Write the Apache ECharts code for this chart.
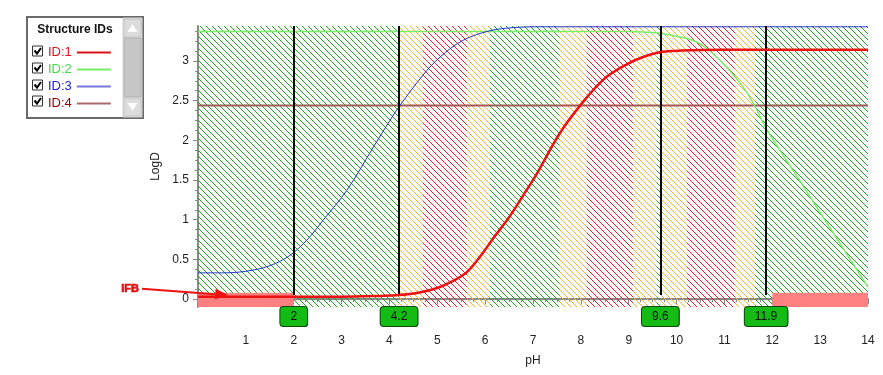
<!DOCTYPE html>
<html><head><meta charset="utf-8">
<script src="https://cdn.jsdelivr.net/npm/echarts@6/dist/echarts.min.js"></script>
<style>html,body{margin:0;padding:0;background:#fff}#c{width:883px;height:375px}</style>
</head><body><div id="c"></div>
<script>
// ---------- data ----------
const seriesNames = ['ID:1', 'ID:2', 'ID:3', 'ID:4'];
const id1 = [[0,0.03],[1,0.03],[2,0.03],[3,0.03],[3.8,0.04],[4.2,0.05],[4.6,0.08],[5.0,0.14],[5.3,0.22],[5.6,0.33],[5.9,0.54],[6.2,0.79],[6.5,1.03],[6.8,1.31],[7.1,1.6],[7.55,2.08],[8.0,2.45],[8.5,2.78],[9.0,2.97],[9.3,3.05],[9.65,3.11],[10.1,3.13],[11,3.14],[12,3.14],[14,3.14]];
const id2 = [[0,3.37],[9.0,3.37],[9.4,3.36],[9.65,3.35],[10.0,3.31],[10.34,3.26],[10.63,3.16],[11.05,2.92],[11.39,2.67],[11.6,2.47],[11.89,2.13],[12.5,1.56],[13,1.09],[13.5,0.62],[14,0.15]];
const id3 = [[0,0.33],[0.5,0.33],[1,0.35],[1.5,0.42],[1.92,0.55],[2.3,0.76],[2.61,0.99],[3.11,1.37],[3.66,1.91],[4.01,2.25],[4.22,2.44],[4.7,2.82],[5.06,3.05],[5.54,3.26],[6.1,3.38],[6.6,3.42],[7.1,3.43],[14,3.43]];
const id4 = [[0,2.44],[14,2.44]];
const bandFrom = [0, 4.2, 4.7, 5.62, 6.1, 7.56, 8.12, 9.09, 9.58, 9.66, 10.22, 11.22, 11.64];
const bandTo   = [4.2, 4.7, 5.62, 6.1, 7.56, 8.12, 9.09, 9.58, 9.66, 10.22, 11.22, 11.64, 14];
const bandKind = ['g','o','r','o','g','o','r','o','g','o','r','o','g'];
const ifbRanges = [[0, 2, 0.08, -0.1], [12, 14, 0.08, -0.1]]; // pH from, pH to, logD top, logD bottom
const pkaLines = [2, 4.2, 9.66, 11.87];
const pkaLabels = ['2', '4.2', '9.6', '11.9'];
const pkaLineSpan = [0.05, 3.44];
const ifbArrow = {from: [-1.17, 0.13], to: [0.63, 0.05]};
const ifbText = 'IFB';
const yTicks = [0, 0.5, 1, 1.5, 2, 2.5, 3];
const yMinorTicks = [0.125,0.25,0.375,0.625,0.75,0.875,1.125,1.25,1.375,1.625,1.75,1.875,2.125,2.25,2.375,2.625,2.75,2.875,3.125,3.25,3.375];
const legendTitle = 'Structure IDs';

// ---------- styling ----------
const FONT = '"Liberation Sans", Arial, sans-serif';
const lineColors = ['#ee1111', '#77ee66', '#2233cc', '#a05a5a'];
const legendLineColors = ['#dd1111', '#77ee66', '#7777dd', '#aa6a6a'];
const legendTextColors = ['#dd1122', '#44dd44', '#2222cc', '#990000'];
const lineWidths = [2.5, 1.5, 1, 2];
const hatchColors = {g: '#18a818', o: '#ffb030', r: '#e8202a'};

function hatch(color) {
  const c = document.createElement('canvas');
  c.width = 6; c.height = 6;
  const ctx = c.getContext('2d');
  ctx.fillStyle = color;
  for (let i = 0; i < 6; i++) ctx.fillRect(i, i, 1, 1);
  return {image: c, repeat: 'repeat'};
}
const patterns = {g: hatch(hatchColors.g), o: hatch(hatchColors.o), r: hatch(hatchColors.r)};

const chart = echarts.init(document.getElementById('c'), null, {renderer: 'canvas'});

const dataSets = [id1, id2, id3, id4];
const curveSeries = dataSets.map((d, i) => ({
  name: seriesNames[i], type: 'line', data: d, showSymbol: false, symbol: 'none',
  smooth: i === 3 ? false : 0.35,
  lineStyle: {color: lineColors[i], width: lineWidths[i]},
  itemStyle: {color: legendLineColors[i]},
  z: i === 0 ? 6 : 3
}));

const option = {
  animation: false,
  textStyle: {fontFamily: FONT},
  grid: {left: 198, right: 15, top: 26, bottom: 68},
  legend: {
    orient: 'vertical', left: 43, top: 41, align: 'right',
    itemWidth: 34, itemHeight: 2, itemGap: 4, icon: 'rect', selectedMode: false,
    textStyle: {fontSize: 13, fontFamily: FONT, width: 30, padding: [0, 0, 0, 0]},
    data: seriesNames.map((n, i) => ({name: n, textStyle: {color: legendTextColors[i]}}))
  },
  xAxis: {
    type: 'value', min: 0, max: 14, interval: 1, offset: 21,
    name: 'pH', nameLocation: 'middle', nameGap: 27,
    nameTextStyle: {fontSize: 12, color: '#222'},
    axisLine: {show: true, lineStyle: {color: '#888', width: 2}},
    axisTick: {show: true, length: 5, lineStyle: {color: '#888'}},
    minorTick: {show: true, splitNumber: 4, length: 3, lineStyle: {color: '#888'}},
    axisLabel: {showMinLabel: false, fontSize: 12, color: '#222', margin: 7},
    splitLine: {show: false}
  },
  yAxis: [{
    type: 'value', min: -0.1, max: 3.44,
    name: 'LogD', nameLocation: 'middle', nameGap: 34, nameRotate: 90,
    nameTextStyle: {fontSize: 12, color: '#222'},
    axisLine: {show: true, lineStyle: {color: '#888', width: 2}},
    axisTick: {show: true, length: 5, customValues: yTicks, lineStyle: {color: '#888'}},
    axisLabel: {customValues: yTicks, fontSize: 12, color: '#222', margin: 9},
    splitLine: {show: false}
  }, {
    type: 'value', min: -0.1, max: 3.44, position: 'left',
    axisLine: {show: false},
    axisTick: {show: true, length: 3, customValues: yMinorTicks, lineStyle: {color: '#888'}},
    axisLabel: {show: false}, splitLine: {show: false}
  }],
  series: [
    {
      name: 'bands', type: 'line', data: [], z: 1, silent: true,
      markArea: {
        silent: true,
        data: bandFrom.map((f, i) => [
          {xAxis: f, itemStyle: {color: patterns[bandKind[i]]}},
          {xAxis: bandTo[i]}
        ])
      }
    },
    {
      name: 'ifb', type: 'line', data: [], z: 2, silent: true,
      markArea: {
        silent: true,
        itemStyle: {color: '#ff8080'},
        data: ifbRanges.map(r => [{coord: [r[0], r[2]]}, {coord: [r[1], r[3]]}])
      }
    },
    curveSeries[3], curveSeries[1], curveSeries[2],
    {
      name: 'pka', type: 'line', data: [], z: 5, silent: true,
      markLine: {
        silent: true, symbol: ['none', 'none'], label: {show: false},
        lineStyle: {color: '#000', width: 2, type: 'solid'},
        data: pkaLines.map(v => [{coord: [v, pkaLineSpan[0]]}, {coord: [v, pkaLineSpan[1]]}])
      }
    },
    curveSeries[0]
  ]
};
chart.setOption(option);

// ---------- annotations positioned through the axes ----------
const bottomPx = chart.convertToPixel({yAxisIndex: 0}, -0.1);
const graphics = [];
pkaLines.forEach((v, i) => {
  const x = chart.convertToPixel({xAxisIndex: 0}, v);
  graphics.push({
    type: 'text', x: x + 1, y: bottomPx + 10.5, z: 9,
    style: {
      text: pkaLabels[i], align: 'center', verticalAlign: 'middle',
      font: '12px ' + FONT, fill: 'rgba(0,0,0,0)',
      backgroundColor: '#444', borderRadius: 3,
      padding: [4, 10, 3, 10]
    }
  });
  graphics.push({
    type: 'text', x: x, y: bottomPx + 9.5, z: 10,
    style: {
      text: pkaLabels[i], align: 'center', verticalAlign: 'middle',
      font: '12px ' + FONT, fill: '#111',
      backgroundColor: '#14bb14', borderColor: '#0a4a0a', borderWidth: 1, borderRadius: 3,
      padding: [4, 10, 3, 10]
    }
  });
});
const aFrom = chart.convertToPixel({xAxisIndex: 0, yAxisIndex: 0}, ifbArrow.from);
const aTo = chart.convertToPixel({xAxisIndex: 0, yAxisIndex: 0}, ifbArrow.to);
const ang = Math.atan2(aTo[1] - aFrom[1], aTo[0] - aFrom[0]);
const hl = 13, hw = 5.5;
const bx = aTo[0] - hl * Math.cos(ang), by = aTo[1] - hl * Math.sin(ang);
graphics.push({type: 'line', z: 10, shape: {x1: aFrom[0], y1: aFrom[1], x2: bx, y2: by}, style: {stroke: '#ee1111', lineWidth: 2}});
graphics.push({type: 'polygon', z: 10, shape: {points: [
  [aTo[0], aTo[1]],
  [bx + hw * Math.sin(ang), by - hw * Math.cos(ang)],
  [bx - hw * Math.sin(ang), by + hw * Math.cos(ang)]
]}, style: {fill: '#ee1111'}});
graphics.push({type: 'text', z: 10, x: aFrom[0] - 3, y: aFrom[1], style: {
  text: ifbText, align: 'right', verticalAlign: 'middle', font: 'bold 11px ' + FONT,
  fill: '#ee1111', stroke: '#990000', lineWidth: 0.6
}});

// legend frame, checkboxes, scrollbar
graphics.push({type: 'rect', z: 0, shape: {x: 27, y: 17, width: 116, height: 101}, style: {fill: '#fff', stroke: '#6a6a6a', lineWidth: 2}});
graphics.push({type: 'text', z: 1, x: 75, y: 30, style: {text: legendTitle, align: 'center', verticalAlign: 'middle', font: 'bold 12px ' + FONT, fill: '#111'}});
graphics.push({type: 'rect', z: 1, shape: {x: 123, y: 18, width: 19, height: 99}, style: {fill: '#f0f0f0', stroke: '#d0d0d0', lineWidth: 1}});
graphics.push({type: 'rect', z: 1, shape: {x: 124, y: 19, width: 17, height: 18}, style: {fill: '#dcdcdc', stroke: '#c4c4c4', lineWidth: 1}});
graphics.push({type: 'polygon', z: 2, shape: {points: [[127.5, 32], [132.5, 24], [137.5, 32]]}, style: {fill: '#ffffff'}});
graphics.push({type: 'rect', z: 1, shape: {x: 124, y: 38, width: 17, height: 59}, style: {fill: '#c6c6c6', stroke: '#b0b0b0', lineWidth: 1}});
graphics.push({type: 'rect', z: 1, shape: {x: 124, y: 98, width: 17, height: 18}, style: {fill: '#dcdcdc', stroke: '#c4c4c4', lineWidth: 1}});
graphics.push({type: 'polygon', z: 2, shape: {points: [[127.5, 103], [132.5, 111], [137.5, 103]]}, style: {fill: '#ffffff'}});
[51, 68, 85, 101].forEach(cy => {
  graphics.push({type: 'rect', z: 1, shape: {x: 32.5, y: cy - 5, width: 10, height: 10}, style: {fill: '#fff', stroke: '#333', lineWidth: 1}});
  graphics.push({type: 'polyline', z: 2, shape: {points: [[34.5, cy - 0.5], [37, cy + 2.5], [41, cy - 3]]}, style: {stroke: '#000', lineWidth: 2, fill: null}});
});
chart.setOption({graphic: graphics});
</script>
</body></html>
